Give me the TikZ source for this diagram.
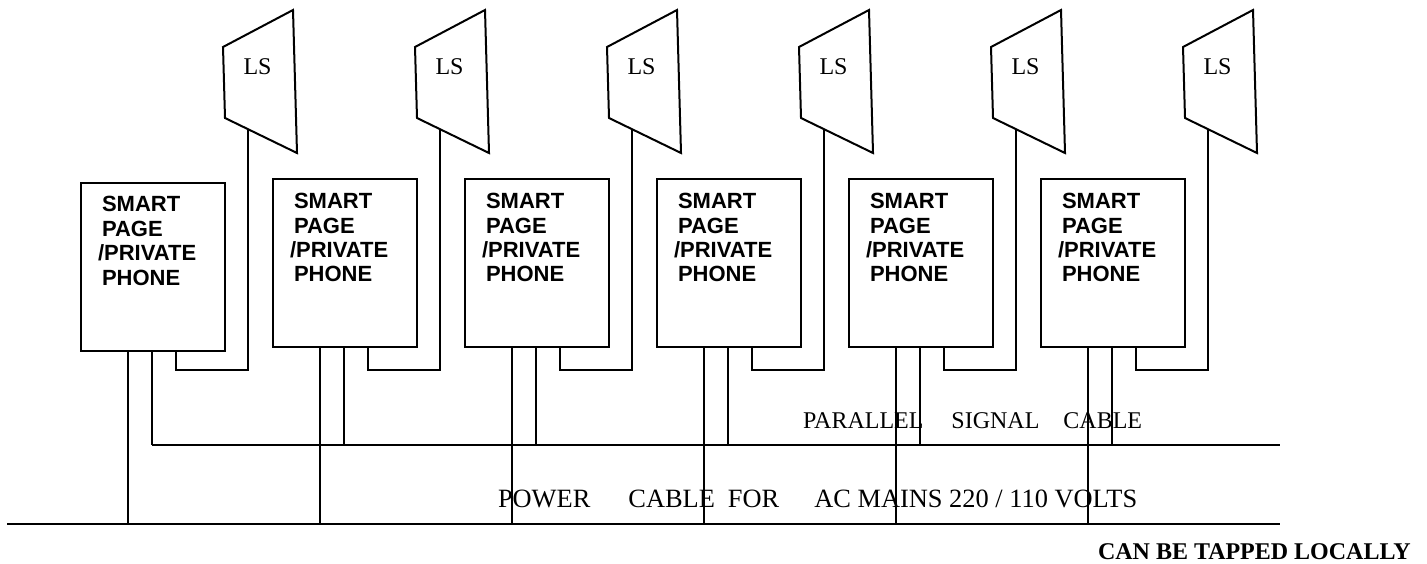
\documentclass[tikz,border=0pt]{standalone}
\usepackage{fontspec}
\setmainfont{Liberation Serif}
\setsansfont{Liberation Sans}
\usetikzlibrary{calc}

\begin{document}
\begin{tikzpicture}[x=0.5pt, y=-0.5pt, line width=1pt,
    phonebox/.style={draw, rectangle, anchor=north west, inner sep=0pt, minimum width=72pt, minimum height=84pt},
    phonetext/.style={anchor=north west, inner sep=0pt, align=left, font=\sffamily\bfseries\fontsize{11}{12.2}\selectfont},
    lstext/.style={anchor=base, inner sep=0pt, font=\fontsize{12}{14}\selectfont},
    cabletext/.style={anchor=base west, inner sep=0pt}]
    \useasboundingbox (0,0) rectangle (1427,563);

    %cables
    \coordinate (sg-l) at (152,445);
    \coordinate (sg-r) at (1280,445);
    \coordinate (pw-l) at (7,524);
    \coordinate (pw-r) at (1280,524);
    \draw (sg-l) -- (sg-r);
    \draw (pw-l) -- (pw-r);

    %phone units with loudspeakers
    \foreach \i in {1,...,6}{
        \pgfmathsetmacro\dx{(\i-1)*192}
        \pgfmathsetmacro\boxtop{\i==1 ? 181.5 : 178.3}
        \node[phonebox] (box\i) at (80+\dx,\boxtop) {};
        \node[phonetext] (txt\i) at ($(box\i.north west)+(21,14)$) {SMART\\PAGE\\\hspace*{-2pt}/PRIVATE\\PHONE};
        \draw (223+\dx,47) -- (293+\dx,10) -- (297+\dx,153) -- (225+\dx,118) -- cycle;
        \node[lstext] (ls\i) at (257.5+\dx,74) {LS};

        %taps
        \coordinate (p\i) at ($(box\i.south west)+(48,0)$);
        \coordinate (s\i) at ($(box\i.south west)+(72,0)$);
        \coordinate (w\i) at ($(box\i.south west)+(96,0)$);
        \coordinate (k\i) at (248+\dx,370);
        \coordinate (m\i) at (248+\dx,130);
        \draw (p\i) -- (p\i |- pw-l);
        \draw (s\i) -- (s\i |- sg-l);
        \draw (w\i) |- (k\i) -- (m\i);
    }

    %labels
    \node[cabletext, font=\fontsize{12}{14}\selectfont] (sgtxt) at (802,428) {PARALLEL\hspace{14pt}SIGNAL\hspace{12pt}CABLE};
    \node[cabletext, font=\fontsize{13.2}{15}\selectfont] (pwtxt) at (497,507) {POWER\hspace{19pt}CABLE\hspace{6.5pt}FOR\hspace{17.5pt}AC MAINS 220 / 110 VOLTS};
    \node[cabletext, font=\bfseries\fontsize{12}{14}\selectfont] (taptxt) at (1097,559) {CAN BE TAPPED LOCALLY};
\end{tikzpicture}
\end{document}
